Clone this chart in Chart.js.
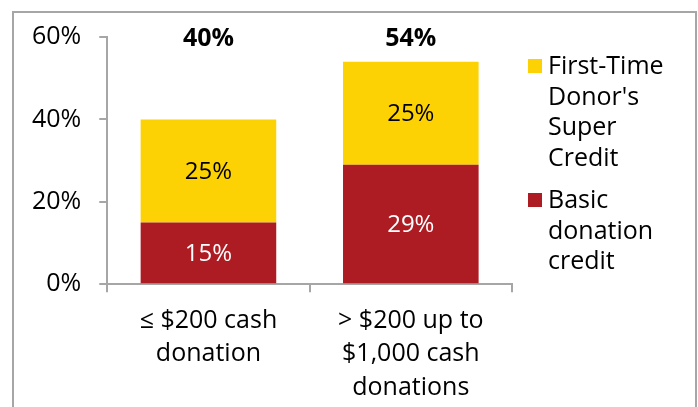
<!DOCTYPE html>
<html>
<head>
<meta charset="utf-8">
<script src="https://cdn.jsdelivr.net/npm/chart.js@4"></script>
<style>
  html, body { margin: 0; padding: 0; background: #fff; }
  #wrap { position: relative; width: 698px; height: 407px; overflow: hidden; }
  #frame { position: absolute; left: 12px; top: 11px; width: 685px; height: 420px; border: 2px solid #a6a6a6; box-sizing: border-box; }
  #chart { position: absolute; left: 0; top: 0; }
</style>
</head>
<body>
<div id="wrap">
  <div id="frame"></div>
  <canvas id="chart" width="698" height="430"></canvas>
</div>
<script>
// Data
const categories = [['≤ $200 cash', 'donation'], ['> $200 up to', '$1,000 cash', 'donations']];
const basicCredit = [15, 29];
const superCredit = [25, 25];
const yTicks = [0, 20, 40, 60];
const legendBasic = ['Basic', 'donation', 'credit'];
const legendSuper = ['First-Time', "Donor's", 'Super', 'Credit'];

const RED = '#ad1c23';
const YELLOW = '#fcd205';
const FONT = "'Open Sans', sans-serif";

// value labels inside segments, totals on top, and the legend on the right
const labelPlugin = {
    id: 'labels',
    afterDatasetsDraw(chart) {
        const ctx = chart.ctx;
        const yScale = chart.scales.y;
        ctx.save();
        ctx.textAlign = 'center';
        ctx.textBaseline = 'middle';
        chart.data.datasets.forEach((ds, i) => {
            const meta = chart.getDatasetMeta(i);
            meta.data.forEach((bar, j) => {
                const mid = (bar.y + bar.base) / 2;
                ctx.font = '24px ' + FONT;
                ctx.fillStyle = ds.labelColor;
                ctx.fillText(ds.data[j] + '%', bar.x, mid + 1);
            });
        });
        // totals
        const meta0 = chart.getDatasetMeta(0);
        meta0.data.forEach((bar, j) => {
            const total = basicCredit[j] + superCredit[j];
            ctx.font = 'bold 25px ' + FONT;
            ctx.fillStyle = '#000';
            ctx.fillText(total + '%', bar.x, yScale.getPixelForValue(60) + 2);
        });
        // legend
        const lx = chart.chartArea.right + 16;
        const lineH = 30.5;
        const blocks = [
            { color: YELLOW, lines: legendSuper, y: 66 },
            { color: RED, lines: legendBasic, y: 200 }
        ];
        ctx.textAlign = 'left';
        ctx.font = '25px ' + FONT;
        blocks.forEach(b => {
            ctx.fillStyle = b.color;
            ctx.fillRect(lx, b.y - 7, 14, 14);
            ctx.fillStyle = '#000';
            b.lines.forEach((t, k) => {
                ctx.fillText(t, lx + 20, b.y + k * lineH + 1);
            });
        });
        ctx.restore();
    }
};

new Chart(document.getElementById('chart'), {
    type: 'bar',
    data: {
        labels: categories,
        datasets: [
            {
                label: 'Basic donation credit',
                data: basicCredit,
                backgroundColor: RED,
                labelColor: '#fff',
                barPercentage: 0.67,
                categoryPercentage: 1
            },
            {
                label: "First-Time Donor's Super Credit",
                data: superCredit,
                backgroundColor: YELLOW,
                labelColor: '#000',
                barPercentage: 0.67,
                categoryPercentage: 1
            }
        ]
    },
    options: {
        responsive: false,
        animation: false,
        layout: { padding: { left: 14, right: 186, top: 37, bottom: 14 } },
        plugins: {
            legend: { display: false },
            tooltip: { enabled: false }
        },
        scales: {
            x: {
                stacked: true,
                grid: {
                    drawOnChartArea: false,
                    offset: true,
                    tickLength: 8,
                    color: '#a6a6a6',
                    lineWidth: 2
                },
                border: { color: '#a6a6a6', width: 2 },
                ticks: {
                    color: '#000',
                    padding: 12,
                    maxRotation: 0,
                    font: { family: FONT, size: 25, lineHeight: 1.33 }
                }
            },
            y: {
                stacked: true,
                min: 0,
                max: 60,
                afterBuildTicks(axis) {
                    axis.ticks = yTicks.map(v => ({ value: v }));
                },
                grid: {
                    drawOnChartArea: false,
                    tickLength: 8,
                    color: '#a6a6a6',
                    lineWidth: 2
                },
                border: { color: '#a6a6a6', width: 2 },
                ticks: {
                    color: '#000',
                    padding: 18,
                    font: { family: FONT, size: 25 },
                    callback: v => v + '%'
                }
            }
        }
    },
    plugins: [labelPlugin]
});
</script>
</body>
</html>
